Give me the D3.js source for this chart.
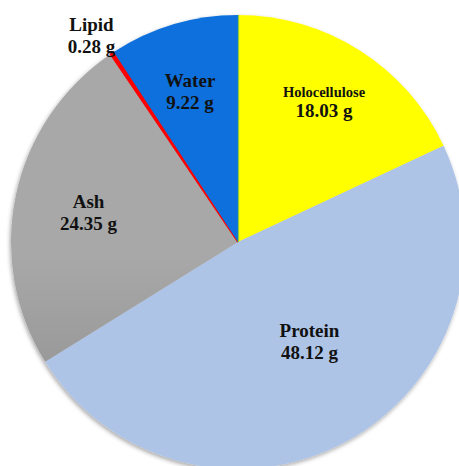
<!DOCTYPE html>
<html><head><meta charset="utf-8">
<script src="https://cdn.jsdelivr.net/npm/d3@7"></script>
<style>html,body{margin:0;padding:0;background:#fff;}svg{display:block;}</style>
</head><body>
<script>
const categories = ["Holocellulose", "Protein", "Ash", "Lipid", "Water"];
const values = [18.03, 48.12, 24.35, 0.28, 9.22];
const valueLabels = ["18.03 g", "48.12 g", "24.35 g", "0.28 g", "9.22 g"];

const W = 459, H = 466;
const cx = 238, cy = 242, R = 227;

const svg = d3.select("body").append("svg").attr("width", W).attr("height", H);
const defs = svg.append("defs");

const f = defs.append("filter").attr("id", "sh").attr("x", "-10%").attr("y", "-10%").attr("width", "120%").attr("height", "120%");
f.append("feDropShadow").attr("dx", -1).attr("dy", 2).attr("stdDeviation", 2).attr("flood-color", "#000").attr("flood-opacity", 0.35);

function vgrad(id, c1, c2) {
  const g = defs.append("linearGradient").attr("id", id)
    .attr("gradientUnits", "userSpaceOnUse").attr("x1", 0).attr("y1", cy - R).attr("x2", 0).attr("y2", cy + R * 0.6);
  g.append("stop").attr("offset", 0).attr("stop-color", c1);
  g.append("stop").attr("offset", 1).attr("stop-color", c2);
}
vgrad("gAsh", "#a8a8a8", "#767676");
vgrad("gWater", "#0a6fdc", "#004a9a");

const fills = {
  Holocellulose: "#ffff00",
  Protein: "#aec4e7",
  Ash: "url(#gAsh)",
  Lipid: "#ff0000",
  Water: "url(#gWater)"
};

const data = categories.map((c, i) => ({ name: c, value: values[i], label: valueLabels[i] }));
const pie = d3.pie().sort(null).value(d => d.value);
const arcs = pie(data);
const arc = d3.arc().innerRadius(0).outerRadius(R);

const g = svg.append("g").attr("transform", `translate(${cx},${cy})`);
g.append("g").attr("filter", "url(#sh)")
  .selectAll("path").data(arcs).join("path")
  .attr("d", arc)
  .attr("fill", d => fills[d.data.name])
  .attr("stroke", d => d.data.name === "Lipid" ? "#ff0000" : "none")
  .attr("stroke-width", d => d.data.name === "Lipid" ? 1.5 : 0);

// thin green edge at Water/Holocellulose boundary
g.append("line").attr("x1", 0.5).attr("y1", 0).attr("x2", 0.5).attr("y2", -R)
  .attr("stroke", "#8cc63f").attr("stroke-width", 1.2);

// labels
const labelPos = {
  Holocellulose: [324, 97, 14.5],
  Protein: [309.5, 337, 19],
  Ash: [88.5, 208, 19],
  Lipid: [91.5, 30.5, 19],
  Water: [190, 87, 19]
};
const lab = svg.append("g").attr("font-family", "'Liberation Serif','Times New Roman',serif")
  .attr("font-weight", "bold").attr("fill", "#111").attr("text-anchor", "middle");
data.forEach(d => {
  const [x, y, fs] = labelPos[d.name];
  const y2 = y + (d.name === "Holocellulose" ? 20 : 22);
  lab.append("text").attr("x", x).attr("y", y).attr("font-size", fs).text(d.name);
  lab.append("text").attr("x", x).attr("y", y2).attr("font-size", 19).text(d.label);
});
</script>
</body></html>
